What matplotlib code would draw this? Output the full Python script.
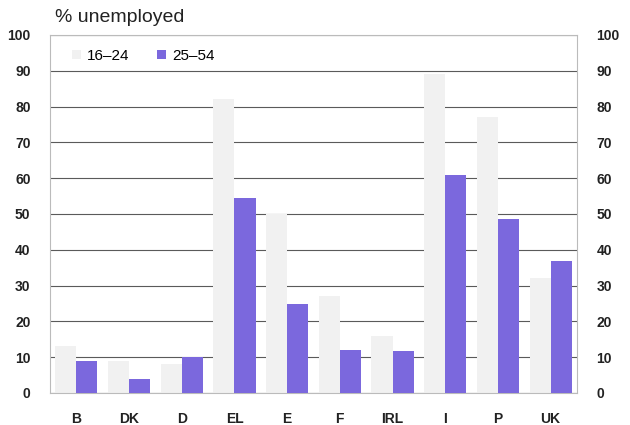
import matplotlib
matplotlib.use("Agg")
import matplotlib.pyplot as plt
import numpy as np

plt.rcParams['font.family'] = ['Liberation Sans', 'DejaVu Sans']

countries = ["B", "DK", "D", "EL", "E", "F", "IRL", "I", "P", "UK"]
youth_16_24 = [13, 9, 8, 82, 50, 27, 16, 89, 77, 32]
prime_25_54 = [9, 4, 10, 54.5, 25, 12, 11.7, 61, 48.5, 37]
yticks = list(range(0, 101, 10))

fig = plt.figure(figsize=(6.3, 4.25), dpi=100)
ax = fig.add_axes([50 / 630, 1 - 393 / 425, 527 / 630, 358 / 425])

x = np.arange(len(countries))
w = 0.4
ax.bar(x - w / 2, youth_16_24, width=w, color="#f1f1f1", label="16\u201324", zorder=2)
ax.bar(x + w / 2, prime_25_54, width=w, color="#7b68dd", label="25\u201354", zorder=3)

ax.set_xlim(-0.5, len(countries) - 0.5)
ax.set_ylim(0, 100)
ax.set_yticks(yticks)
ax.set_xticks(x)
ax.set_xticklabels(countries)
ax.yaxis.grid(True, color="#5a5a5a", linewidth=0.8, zorder=1)
ax.set_axisbelow(True)
for s in ax.spines.values():
    s.set_color("#bbbbbb")
    s.set_linewidth(0.8)
ax.tick_params(axis="both", length=0, labelsize=10, colors="#222222")
ax.tick_params(axis="x", pad=14)
ax.tick_params(axis="y", pad=14, labelright=True, right=False)
for lab in ax.get_xticklabels() + ax.get_yticklabels():
    lab.set_fontweight("bold")
for t in ax.yaxis.get_major_ticks():
    t.label2.set_fontweight("bold")
    t.label2.set_color("#222222")

leg = ax.legend(loc="upper left", ncol=2, frameon=False, fontsize=11,
                handlelength=0.6, handleheight=0.6, columnspacing=1.8,
                handletextpad=0.4, bbox_to_anchor=(0.015, 1.0))

fig.text(55 / 630, 1 - 18 / 425, "% unemployed", fontsize=14, va="center", ha="left",
         color="#222222")

fig.savefig("out.png", dpi=100)
